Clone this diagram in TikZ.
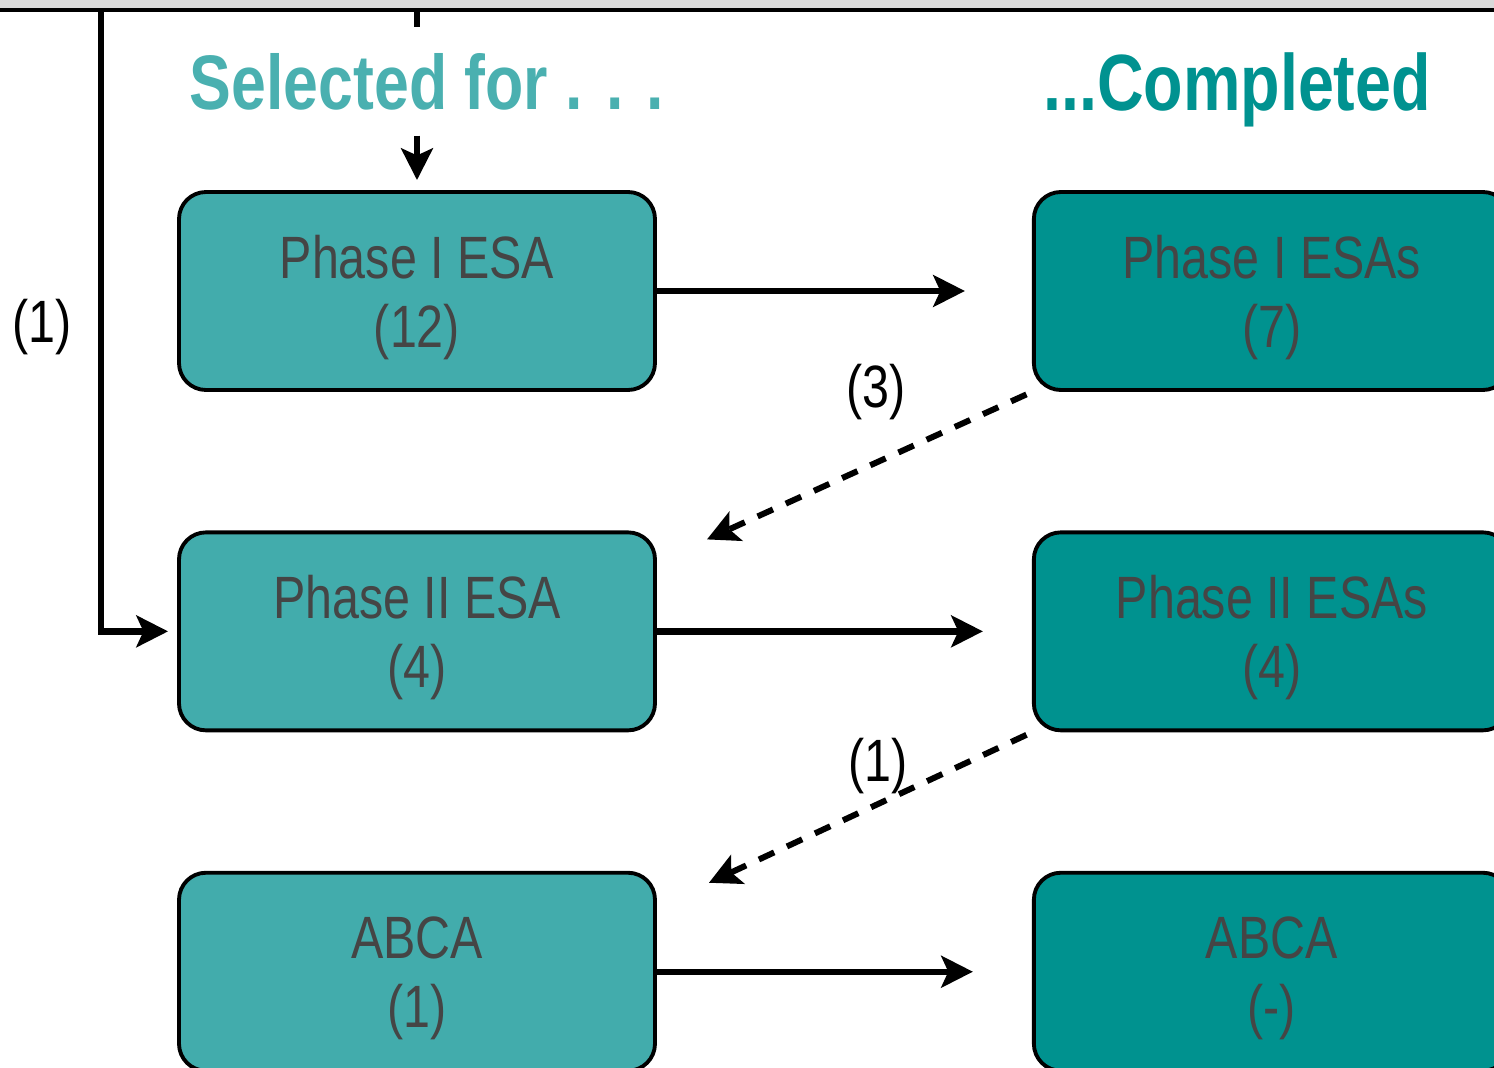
\documentclass[tikz,border=0pt]{standalone}
\usepackage{fontspec}
\setmainfont[FakeStretch=0.81]{Liberation Sans}
\usepackage{xcolor}
\usetikzlibrary{calc,positioning,arrows.meta}

\definecolor{selfill}{HTML}{42ACAC}
\definecolor{donefill}{HTML}{00928F}
\definecolor{selcol}{HTML}{4AB0B0}
\definecolor{donecol}{HTML}{009290}
\definecolor{boxtext}{HTML}{454545}

\begin{document}
\begin{tikzpicture}[align=center,
    selbox/.style={draw, line width=1.1pt, rounded corners=0.27cm, fill=selfill, text=boxtext, minimum width=4.76cm, minimum height=1.98cm, text depth=0pt, font=\fontsize{17}{19.6}\selectfont},
    donebox/.style={selbox, fill=donefill},
    flow/.style={line width=1.8pt, -{Stealth[length=9pt, width=9pt, inset=2pt]}},
    backflow/.style={flow, line width=1.7pt, dash pattern=on 4.8pt off 4pt},
    count/.style={font=\fontsize{17}{20}\selectfont},
    headline/.style={font=\fontsize{22}{26}\selectfont\bfseries, inner sep=0pt}]

    \useasboundingbox (0,0) rectangle (14.94,-10.68);
    \clip (0,0) rectangle (14.94,-10.68);

    \node [draw, fill=gray!30, line width=1.1pt, outer sep=0pt, anchor=south, minimum width=16cm, minimum height=1cm] (prev) at (7.47,-0.10) {};

    \node [headline, text=selcol, minimum height=1.07cm] (selhead) at (4.27,-0.815) {Selected for . . .};
    \node [headline, text=donecol] (donehead) at (12.37,-0.90) {\fontsize{22.7}{26}\selectfont ...Completed};

    \node [selbox] (sel1) at (4.17,-2.91) {Phase I ESA\\(12)};
    \node [selbox, below=1.385cm of sel1] (sel2) {Phase II ESA\\(4)};
    \node [selbox, below=1.385cm of sel2] (sel3) {ABCA\\(1)};

    \node [donebox, right=3.75cm of sel1] (done1) {Phase I ESAs\\(7)};
    \node [donebox, right=3.75cm of sel2] (done2) {Phase II ESAs\\(4)};
    \node [donebox, right=3.75cm of sel3] (done3) {ABCA\\(-)};

    \coordinate (rail) at (1.01,-6.32);

    \draw[line width=1.8pt] (prev.south -| sel1.north) -- (selhead.north -| sel1.north);
    \draw[flow, shorten >=0.1cm] (selhead.south -| sel1.north) -- (sel1.north);
    \draw[flow, shorten >=0.09cm] (prev.south -| rail) |- (sel2.west);
    \node [count] (redo) at (0.42,-3.27) {(1)};

    \draw[flow, shorten >=0.67cm] (sel1) -- (done1);
    \draw[flow, shorten >=0.49cm] (sel2) -- (done2);
    \draw[flow, shorten >=0.59cm] (sel3) -- (done3);

    \draw[backflow, shorten <=0.06cm] (done1.south west) -- ($(sel2.north east)+(0.5,-0.09)$);
    \draw[backflow, shorten <=0.06cm] (done2.south west) -- ($(sel3.north east)+(0.52,-0.12)$);
    \node [count] (back1) at (8.76,-3.92) {(3)};
    \node [count] (back2) at (8.78,-7.66) {(1)};

\end{tikzpicture}
\end{document}
